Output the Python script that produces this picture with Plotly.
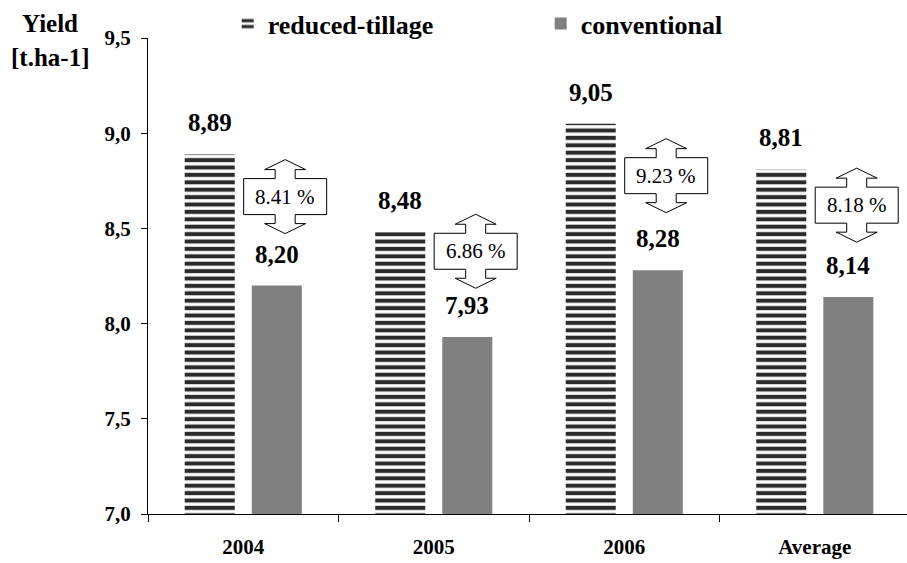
import plotly.graph_objects as go

categories = ["2004", "2005", "2006", "Average"]
reduced_tillage = [8.89, 8.48, 9.05, 8.81]
conventional = [8.20, 7.93, 8.28, 8.14]
reduced_labels = ["8,89", "8,48", "9,05", "8,81"]
conventional_labels = ["8,20", "7,93", "8,28", "8,14"]
differences = ["8.41 %", "6.86 %", "9.23 %", "8.18 %"]
y_tick_values = [7.0, 7.5, 8.0, 8.5, 9.0, 9.5]
y_tick_labels = ["7,0", "7,5", "8,0", "8,5", "9,0", "9,5"]

# annotation placement (layout, not data)
arrow_center_y = [8.667, 8.38, 8.777, 8.622]
arrow_x_offset = 0.22

FONT = "Liberation Serif, Times New Roman, serif"

fig = go.Figure()
fig.add_trace(go.Bar(
    name="reduced-tillage", x=categories, y=reduced_tillage,
    marker=dict(color="white", line=dict(width=0),
                pattern=dict(shape="-", fgcolor="#2b2b2b", bgcolor="white",
                             fgopacity=1, size=7.4, solidity=0.55, fillmode="overlay")),
))
fig.add_trace(go.Bar(
    name="conventional", x=categories, y=conventional,
    marker=dict(color="#808080", line=dict(width=0)),
))

bold25 = dict(family=FONT, size=25, color="black", weight="bold")
annotations = []
for i, c in enumerate(categories):
    annotations.append(dict(x=i, y=reduced_tillage[i], xref="x", yref="y",
                            text=reduced_labels[i], showarrow=False,
                            xshift=-33.5, yshift=16, yanchor="bottom", font=bold25))
    annotations.append(dict(x=i, y=conventional[i], xref="x", yref="y",
                            text=conventional_labels[i], showarrow=False,
                            xshift=33.5, yshift=16, yanchor="bottom", font=bold25))
    annotations.append(dict(x=i + arrow_x_offset, y=arrow_center_y[i], xref="x", yref="y",
                            text=differences[i], showarrow=False,
                            yanchor="middle", xanchor="center",
                            font=dict(family=FONT, size=21, color="black")))

shapes = []
arrow_path = ("M-41.5,18 L-10,18 L-10,27 L-20.5,27 L0,37 L20.5,27 L10,27 L10,18 "
              "L41.5,18 L41.5,-18 L10,-18 L10,-27 L20.5,-27 L0,-37 L-20.5,-27 "
              "L-10,-27 L-10,-18 L-41.5,-18 Z")
for i in range(len(categories)):
    shapes.append(dict(type="path", xref="x", yref="y",
                       xsizemode="pixel", ysizemode="pixel",
                       xanchor=i + arrow_x_offset, yanchor=arrow_center_y[i],
                       path=arrow_path, fillcolor="white",
                       line=dict(color="black", width=1), layer="above"))

annotations.append(dict(x=-0.129, y=1.031, xref="paper", yref="paper", text="Yield",
                        showarrow=False, xanchor="center", yanchor="middle", font=bold25))
annotations.append(dict(x=-0.129, y=0.96, xref="paper", yref="paper", text="[t.ha-1]",
                        showarrow=False, xanchor="center", yanchor="middle", font=bold25))

fig.update_layout(
    width=907, height=563,
    margin=dict(l=148, r=0, t=33, b=49, pad=0),
    paper_bgcolor="white", plot_bgcolor="white",
    barmode="group", bargap=0.296, bargroupgap=0.254,
    font=dict(family=FONT, color="black"),
    showlegend=True,
    legend=dict(orientation="h", x=0.105, y=1.03, xanchor="left", yanchor="middle",
                entrywidth=268, entrywidthmode="pixels",
                font=dict(family=FONT, size=26, color="black", weight="bold"),
                bgcolor="rgba(0,0,0,0)", borderwidth=0),
    xaxis=dict(type="category", range=[-0.5, 3.484], tickson="boundaries",
               ticks="outside", ticklen=7, tickcolor="black", tickwidth=1,
               showline=True, linecolor="black", linewidth=1, showgrid=False,
               ticklabelstandoff=14,
               tickfont=dict(family=FONT, size=21, color="black", weight="bold"),
               zeroline=False, automargin=False),
    yaxis=dict(range=[7.0, 9.5], tickvals=y_tick_values, ticktext=y_tick_labels,
               ticks="outside", ticklen=6, tickcolor="black", tickwidth=1,
               showline=True, linecolor="black", linewidth=1, showgrid=False,
               ticklabelstandoff=6,
               zeroline=False, automargin=False,
               tickfont=dict(family=FONT, size=21, color="black", weight="bold")),
    annotations=annotations, shapes=shapes,
)

fig.write_html("out.html", config={"displayModeBar": False},
               post_script="document.body.style.margin='0';document.body.style.overflow='hidden';")
